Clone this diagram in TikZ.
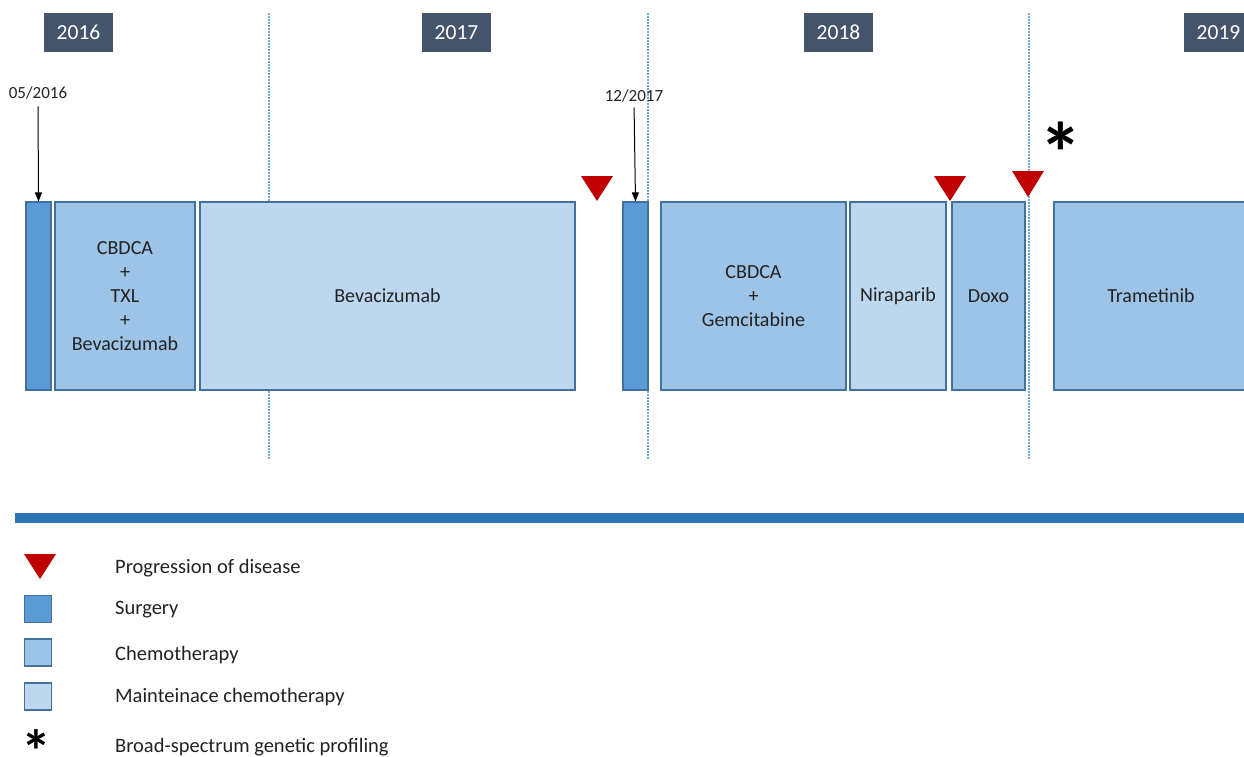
\documentclass[tikz,border=0pt]{standalone}
\usepackage{fontspec}
\setmainfont{Carlito}
\usetikzlibrary{arrows.meta}
\definecolor{surg}{HTML}{5B9BD5}
\definecolor{chemo}{HTML}{9DC3E6}
\definecolor{maint}{HTML}{BDD7EE}
\definecolor{edgec}{HTML}{41719C}
\definecolor{yearbg}{HTML}{44546A}
\definecolor{prog}{HTML}{C00000}
\definecolor{barc}{HTML}{2E75B6}
\definecolor{gridc}{HTML}{6FA8DC}
\definecolor{txt}{HTML}{222222}
\newcommand{\tightstar}{\raisebox{0pt}[\height][-0.38em]{*}}
\begin{document}
\begin{tikzpicture}[x=1pt,y=-1pt,
  phase/.style={draw=edgec, line width=1.1pt, inner sep=0pt, align=center,
    minimum height=188pt, text=txt, font=\fontsize{20}{24}\selectfont},
  surgbox/.style={phase, fill=surg},
  chemobox/.style={phase, fill=chemo},
  maintbox/.style={phase, fill=maint},
  yearbox/.style={fill=yearbg, text=white, minimum width=69pt, minimum height=39pt,
    inner sep=0pt, font=\fontsize{21.5}{24}\selectfont},
  datelbl/.style={text=txt, inner sep=1pt, font=\fontsize{17}{18}\selectfont},
  gridline/.style={draw=gridc, line width=1.3pt, dash pattern=on 2pt off 1pt},
  pointer/.style={-{Triangle[length=9pt,width=7pt]}, line width=1pt, black},
  progmark/.style={fill=prog},
  legsq/.style={draw=edgec, line width=1.1pt, minimum width=27pt, minimum height=27pt, inner sep=0pt},
  legtxt/.style={anchor=west, text=txt, inner sep=0pt, font=\fontsize{20.5}{24}\selectfont},
  star/.style={anchor=north, inner sep=0pt, text=black, font=\fontsize{86}{86}\selectfont\bfseries}
]
\useasboundingbox (0,0) rectangle (1244,757);

% year dividers
\draw[gridline] (269,13) -- (269,459);
\draw[gridline] (648,13) -- (648,459);
\draw[gridline] (1029,13) -- (1029,459);

% year labels
\node[yearbox] (y2016) at (78.5,32.5) {2016};
\node[yearbox] (y2017) at (456.5,32.5) {2017};
\node[yearbox] (y2018) at (838.5,32.5) {2018};
\node[yearbox] (y2019) at (1218.5,32.5) {2019};

% treatment phases
\node[surgbox, minimum width=25pt] (s1) at (38.5,296) {};
\node[chemobox, minimum width=140pt] (c1) at (125,296) {CBDCA\\+\\TXL\\+\\Bevacizumab};
\node[maintbox, minimum width=375pt] (m1) at (387.5,296) {Bevacizumab};
\node[surgbox, minimum width=25pt] (s2) at (635.5,296) {};
\node[chemobox, minimum width=185pt] (c2) at (753.5,296) {CBDCA\\+\\Gemcitabine};
\node[maintbox, minimum width=96pt] (m2) at (898,296) {Niraparib};
\node[chemobox, minimum width=73pt] (c3) at (988.5,296) {Doxo};
\node[chemobox, minimum width=194pt] (c4) at (1151,296) {Trametinib};

% surgery dates
\node[datelbl] (d1) at (38,93) {05/2016};
\node[datelbl] (d2) at (634,96) {12/2017};
\draw[pointer, shorten <=6pt] (d1.south) -- (s1.north);
\draw[pointer, shorten <=4pt] (d2.south) -- (s2.north);

% progression markers
\fill[progmark] (581,176) -- (613,176) -- (597,201) -- cycle;
\fill[progmark] (934,176) -- (966,176) -- (950,201) -- cycle;
\fill[progmark] (1012,171) -- (1044,171) -- (1028,197) -- cycle;

% genetic profiling
\node[star] (gp) at (1061,122) {\tightstar};

% separator bar
\fill[barc] (15,513) rectangle (1244,523);

% legend
\fill[progmark] (24,554) -- (56,554) -- (40,579) -- cycle;
\node[legtxt] (tp) at (115,568) {Progression of disease};
\node[legsq, fill=surg] (ls) at (38,609) {};
\node[legtxt] (ts) at (115,610) {Surgery};
\node[legsq, fill=chemo] (lc) at (38,652.5) {};
\node[legtxt] (tc) at (115,655) {Chemotherapy};
\node[legsq, fill=maint] (lm) at (38,696.5) {};
\node[legtxt] (tm) at (115,697) {Mainteinace chemotherapy};
\node[star, font=\fontsize{60}{60}\selectfont\bfseries] (la) at (36,729) {\tightstar};
\node[legtxt] (ta) at (115,747) {Broad-spectrum genetic profiling};
\end{tikzpicture}
\end{document}
